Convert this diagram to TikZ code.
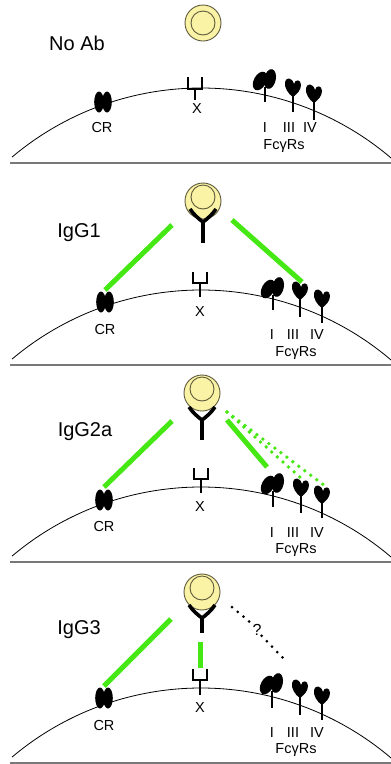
\documentclass[tikz,border=0pt]{standalone}
\usepackage{fontspec}
\setmainfont{Liberation Sans}
\definecolor{beadfill}{RGB}{250,243,165}
\definecolor{beadline}{RGB}{95,90,60}
\definecolor{bindgreen}{RGB}{70,232,20}
\definecolor{sepgray}{RGB}{120,120,120}
\tikzset{
  membrane/.style={line width=0.8pt},
  sepline/.style={line width=1.4pt, sepgray},
  bead/.style={draw=beadline, fill=beadfill, line width=0.9pt},
  beadinner/.style={draw=beadline, line width=0.9pt},
  abline/.style={line width=3.6pt},
  stemline/.style={line width=1.6pt},
  bind/.style={bindgreen, line width=5pt},
  binddots/.style={bindgreen, line width=3.8pt, line cap=round, dash pattern=on 0pt off 7.5pt},
  unknowndots/.style={black, line width=3pt, line cap=round, dash pattern=on 0pt off 7.5pt},
  title/.style={font=\fontsize{20}{24}\selectfont, inner sep=0pt},
  lbl/.style={font=\fontsize{14.5}{17}\selectfont, inner sep=0pt},
}
% cell membrane arc above the panel's base line at y=#1
\newcommand{\Membrane}[1]{%
  \draw[membrane] plot[domain=12:391, samples=90, smooth]
    (\x, {#1+218-sqrt(293-(\x-201))*sqrt(293+(\x-201))});
  \draw[sepline] (10,#1) -- (391,#1);
}
% bead: centre x, centre y, shift of the inner ring
\newcommand{\Bead}[3]{%
  \draw[bead] (#1,#2) circle[radius=18pt];
  \draw[beadinner] (#1,#2+#3) circle[radius=12pt];
}
% antibody: x, junction y, stem end y
\newcommand{\Antibody}[3]{%
  \draw[abline] (#1-13,#2-13) .. controls (#1-9,#2-7) and (#1-4,#2-3) .. (#1,#2)
                .. controls (#1+4,#2-3) and (#1+9,#2-7) .. (#1+13,#2-13);
  \draw[abline] (#1,#2-1) -- (#1,#3);
}
% complement receptor: x, y
\newcommand{\CompRec}[2]{%
  \fill (#1-4,#2) ellipse[x radius=4.8pt, y radius=10.5pt];
  \fill (#1+4,#2) ellipse[x radius=4.8pt, y radius=10.5pt];
}
% receptor X: x, cup top, cup bottom, stem end
\newcommand{\XRec}[4]{%
  \draw[stemline] (#1-7,#2) -- (#1-7,#3) -- (#1+7,#3) -- (#1+7,#2);
  \draw[stemline] (#1,#3) -- (#1,#4);
}
% Fc gamma receptor I: x, lobe base y, stem end y
\newcommand{\FcOne}[3]{%
  \fill[rotate around={-28:(#1-5,#2-9)}] (#1-5,#2-9) ellipse[x radius=6.2pt, y radius=10pt];
  \fill[rotate around={-12:(#1+5,#2-11)}] (#1+5,#2-11) ellipse[x radius=5.8pt, y radius=10pt];
  \draw[stemline] (#1,#2-3) -- (#1,#3);
}
% heart-shaped Fc gamma receptor (III, IV): x, tip y, stem end y
\newcommand{\FcHeart}[3]{%
  \fill (#1,#2) .. controls (#1-5,#2-3) and (#1-9,#2-10) .. (#1-8,#2-15)
        .. controls (#1-7,#2-20) and (#1-1,#2-20) .. (#1+1,#2-13)
        .. controls (#1+2,#2-18) and (#1+8,#2-18) .. (#1+8,#2-12)
        .. controls (#1+8,#2-7) and (#1+4,#2-3) .. (#1,#2) -- cycle;
  \draw[stemline] (#1,#2-2) -- (#1,#3);
}
\begin{document}
\begin{tikzpicture}[x=1pt, y=-1pt]
\useasboundingbox[fill=white] (0,0) rectangle (391,764);

% ---------------- No Ab ----------------
\node[title] (t1) at (77,43) {No Ab};
\Bead{203}{23}{0}
\Membrane{163}
\CompRec{103}{102}
\XRec{195}{77}{89}{100}
\FcOne{265}{90}{102}
\FcHeart{293}{97}{112}
\FcHeart{314}{103}{120}
\node[lbl] (cr1) at (102,128) {CR};
\node[lbl] (x1) at (197,109) {X};
\node[lbl] (i1) at (265,128) {I};
\node[lbl] (iii1) at (289,128) {III};
\node[lbl] (iv1) at (310,128) {IV};
\node[lbl] (fc1) at (284,146) {FcγRs};

% ---------------- IgG1 ----------------
\node[title] (t2) at (79,233) {IgG1};
\Bead{203}{201}{-4}
\Antibody{203}{222}{243}
\Membrane{365}
\CompRec{105}{302}
\XRec{200}{272}{283}{297}
\FcOne{273}{298}{310}
\FcHeart{300}{300}{317}
\FcHeart{322}{308}{323}
\coordinate (g2a) at (172,225); \coordinate (g2b) at (105,290);
\coordinate (g2c) at (232,220); \coordinate (g2d) at (302,282);
\draw[bind] (g2a) -- (g2b);
\draw[bind] (g2c) -- (g2d);
\node[lbl] (cr2) at (105,330) {CR};
\node[lbl] (x2) at (200,312) {X};
\node[lbl] (i2) at (272,335) {I};
\node[lbl] (iii2) at (293,335) {III};
\node[lbl] (iv2) at (317,335) {IV};
\node[lbl] (fc2) at (296,353) {FcγRs};

% ---------------- IgG2a ----------------
\node[title] (t3) at (85,432) {IgG2a};
\Bead{202}{393}{-4}
\Antibody{202}{420}{440}
\Membrane{562}
\CompRec{104}{500}
\XRec{201}{468}{479}{493}
\FcOne{273}{494}{507}
\FcHeart{301}{497}{513}
\FcHeart{322}{504}{518}
\coordinate (g3a) at (172,421); \coordinate (g3b) at (104,487);
\coordinate (g3c) at (227,420); \coordinate (g3d) at (267,467);
\coordinate (g3e) at (227,412); \coordinate (g3f) at (302,479);
\coordinate (g3g) at (325,486);
\draw[bind] (g3a) -- (g3b);
\draw[bind] (g3c) -- (g3d);
\draw[binddots] (g3e) -- (g3f);
\draw[binddots] (g3e) -- (g3g);
\node[lbl] (cr3) at (104,527) {CR};
\node[lbl] (x3) at (200,507) {X};
\node[lbl] (i3) at (272,533) {I};
\node[lbl] (iii3) at (293,533) {III};
\node[lbl] (iv3) at (317,533) {IV};
\node[lbl] (fc3) at (296,550) {FcγRs};

% ---------------- IgG3 ----------------
\node[title] (t4) at (79,630) {IgG3};
\Bead{202}{592}{-4}
\Antibody{202}{618}{633}
\Membrane{763}
\CompRec{104}{698}
\XRec{200}{669}{680}{695}
\FcOne{272}{694}{708}
\FcHeart{300}{698}{715}
\FcHeart{322}{705}{720}
\coordinate (g4a) at (171,619); \coordinate (g4b) at (104,686);
\coordinate (g4c) at (200,642); \coordinate (g4d) at (200,668);
\coordinate (q1) at (232,607); \coordinate (q2) at (283,658);
\draw[bind] (g4a) -- (g4b);
\draw[bind] (g4c) -- (g4d);
\node[lbl, font=\fontsize{16}{19}\selectfont] (qm) at (257,630) {?};
\draw[unknowndots] (q1) -- (qm.north west);
\draw[unknowndots] (qm.south east) -- (q2);
\node[lbl] (cr4) at (104,725) {CR};
\node[lbl] (x4) at (200,708) {X};
\node[lbl] (i4) at (272,733) {I};
\node[lbl] (iii4) at (293,733) {III};
\node[lbl] (iv4) at (317,733) {IV};
\node[lbl] (fc4) at (296,750) {FcγRs};
\end{tikzpicture}
\end{document}
